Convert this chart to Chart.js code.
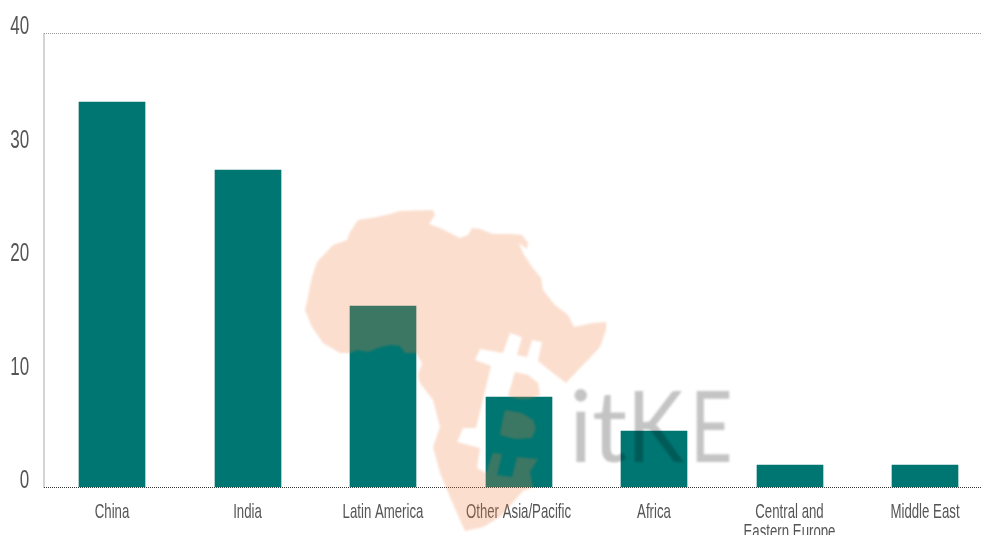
<!DOCTYPE html>
<html><head><meta charset="utf-8">
<style>html,body{margin:0;padding:0;background:#fff;overflow:hidden;width:981px;height:535px}
#w{position:absolute;left:0;top:0;width:993px;height:535px}</style>
<script src="https://cdn.jsdelivr.net/npm/chart.js@4"></script>
</head><body><div id="w"><canvas id="c" width="993" height="535"></canvas></div>
<script>
const categories = ['China','India','Latin America','Other Asia/Pacific','Africa',['Central and','Eastern Europe'],'Middle East'];
const values = [34,28,16,8,5,2,2];
const yTicks = [0,10,20,30,40];
const watermarkText = ['i','t','K','E'];

const F = '"Liberation Sans",sans-serif';
const canvas = document.getElementById('c');
const rawCtx = canvas.getContext('2d');
const plainFillText = rawCtx.fillText.bind(rawCtx);
// The reference uses a condensed face: squeeze tick text horizontally around its anchor.
rawCtx.fillText = function(t,x,y){
  const k = parseInt(this.font) >= 24 ? 0.68 : 0.63;
  this.save(); this.translate(x,y); this.scale(k,1);
  plainFillText(t,0,0);
  this.restore();
};
function drawPoly(ctx, pts){
  ctx.moveTo(pts[0][0],pts[0][1]);
  for(let i=1;i<pts.length;i++) ctx.lineTo(pts[i][0],pts[i][1]);
  ctx.closePath();
}
const snapBars = {
  id:'snapBars',
  afterDatasetsUpdate(chart){
    chart.getDatasetMeta(0).data.forEach(el=>{
      el.x = Math.floor(el.x+0.5);
      el.y = Math.round(el.y);
      el.base = Math.ceil(el.base);
    });
  }
};
const watermark = {
  id:'watermark',
  afterDraw(chart){
    const ctx = chart.ctx;
    const main = [[400,211],[433,210],[435,215],[429,224],[440,228],[448,232],[460,238],[468,235],[472,228],[480,229],[493,234],[510,234],[522,235],[528,243],[527,249],[519,243],[523,253],[532,267],[541,278],[543,290],[555,305],[568,315],[574,327],[593,323],[606,322],[606,330],[600,347],[588,360],[578,370],[566,383],[553,373],[538,361],[542,342],[532,340],[527,357],[517,355],[522,337],[510,333],[503,353],[480,349],[475,360],[491,366],[476,428],[463,428],[457,442],[480,448],[477,468],[486,473],[493,453],[502,454],[497,475],[512,477],[517,457],[538,459],[530,472],[533,487],[523,491],[515,500],[500,517],[483,527],[465,531],[460,520],[450,497],[440,473],[433,447],[440,427],[433,400],[420,383],[418,375],[422,363],[416,353],[405,353],[400,346],[390,345],[378,348],[368,352],[357,350],[350,353],[340,353],[323,343],[312,327],[305,310],[308,297],[312,277],[317,262],[333,245],[347,240],[350,232],[358,220],[377,217],[390,214]];
    const upper = [[515,372],[528,375],[538,383],[540,395],[530,399],[518,399],[508,396]];
    const lower = [[505,410],[522,413],[533,420],[536,428],[532,438],[515,439],[500,435],[502,423]];
    ctx.save();
    ctx.filter = 'blur(0.8px)';
    ctx.fillStyle = 'rgba(240,125,60,0.25)';
    ctx.beginPath();
    drawPoly(ctx,main); drawPoly(ctx,upper); drawPoly(ctx,lower);
    ctx.fill();
    ctx.filter = 'blur(0.8px)';
    ctx.fillStyle = 'rgba(0,0,0,0.23)';
    ctx.font = '98px Lato, sans-serif';
    ctx.textAlign = 'left';
    ctx.textBaseline = 'alphabetic';
    const xs = [569,592,627,690];
    const sx = [1,1,0.87,0.75];
    watermarkText.forEach((s,i)=>{
      ctx.save(); ctx.translate(xs[i],462); ctx.scale(sx[i],1);
      plainFillText(s,0,0);
      ctx.restore();
    });
    ctx.restore();
  }
};
new Chart(canvas,{
  type:'bar',
  data:{labels:categories,datasets:[{data:values,backgroundColor:'#007672',borderWidth:0,barThickness:66,categoryPercentage:1}]},
  options:{
    responsive:false,animation:false,
    layout:{padding:{top:33.5,left:0,right:0.25,bottom:0}},
    plugins:{legend:{display:false},tooltip:{enabled:false}},
    scales:{
      x:{
        grid:{drawTicks:false,lineWidth:2,color:c=>c.index===0?'#aaa':'rgba(0,0,0,0)'},
        border:{display:false,dash:[1,1]},
        ticks:{color:'#555',font:{family:F,size:21,lineHeight:0.95},padding:15,maxRotation:0,autoSkip:false},
        afterFit(s){s.height=47.5;s.paddingLeft=0;s.paddingRight=0;}
      },
      y:{
        min:0,max:40,
        afterBuildTicks(s){s.ticks=yTicks.map(v=>({value:v}));},
        grid:{drawTicks:false,color:c=>{
          if(!c.tick) return 'rgba(0,0,0,0)';
          return c.tick.value===40?'#999':c.tick.value===0?'#333':'rgba(0,0,0,0)';
        }},
        border:{display:false,dash:[1,1]},
        ticks:{color:'#555',font:{family:F,size:25},padding:15,labelOffset:-6},
        afterFit(s){s.width=44.25;s.paddingTop=0;s.paddingBottom=0;}
      }
    }
  },
  plugins:[snapBars,watermark]
});
</script></body></html>
